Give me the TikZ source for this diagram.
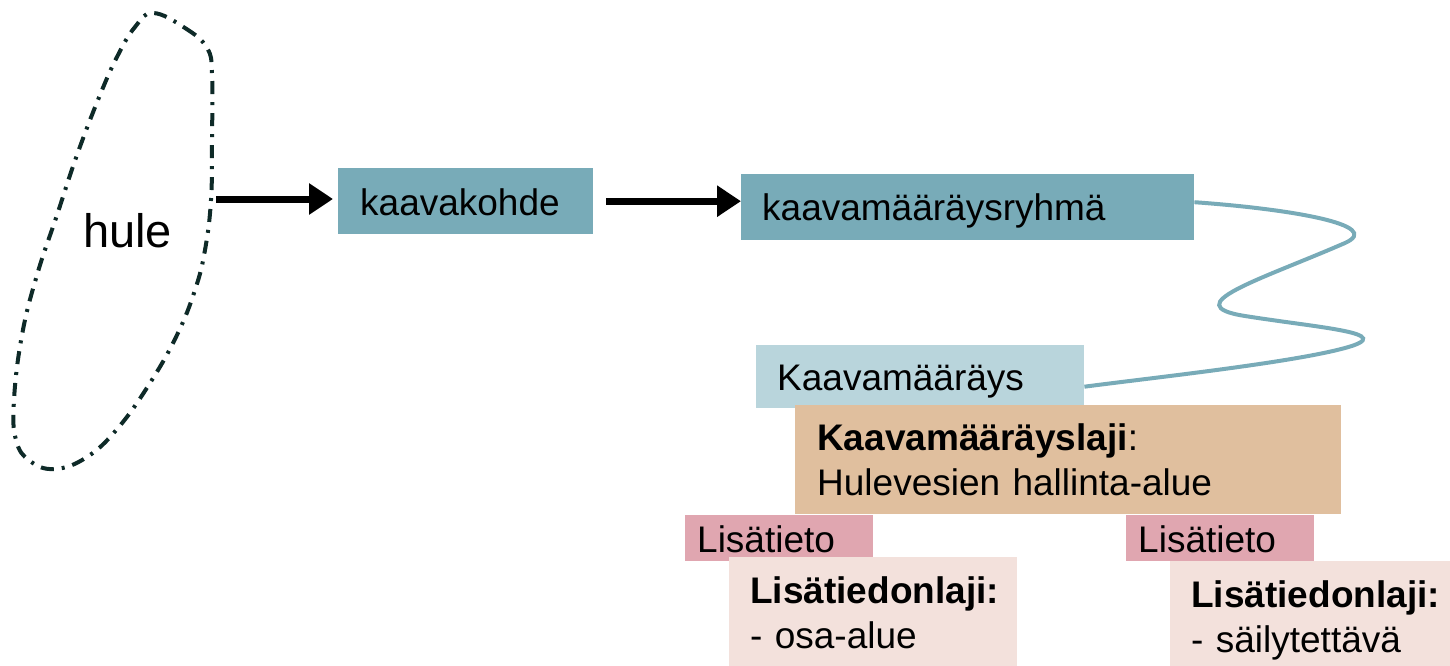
\documentclass[tikz,border=0pt]{standalone}
\usepackage{fontspec}
\setmainfont{Liberation Sans}
\usetikzlibrary{arrows.meta,calc}
\definecolor{tealA}{HTML}{78ABB8}
\definecolor{lblueA}{HTML}{B9D5DC}
\definecolor{tanA}{HTML}{E0BF9E}
\definecolor{pinkA}{HTML}{E0A6B0}
\definecolor{lpinkA}{HTML}{F3E1DC}
\definecolor{blobA}{HTML}{0E2A28}
\tikzset{
  tb/.style={rectangle, anchor=north west, inner ysep=0pt, align=left,
    font=\fontsize{37}{45}\selectfont},
  fatarrow/.style={line width=7pt, -{Triangle[length=24pt,width=30pt]}},
  blobline/.style={draw=blobA, line width=4pt, dash pattern=on 13pt off 8pt on 3pt off 8pt},
  wave/.style={draw=tealA, line width=4pt},
}
\begin{document}
\begin{tikzpicture}[x=1pt,y=-1pt]
\useasboundingbox (0,0) rectangle (1450,666);
% blob
\draw[blobline] plot[smooth cycle, tension=0.7] coordinates {
 (153,13) (185,28) (207,48) (212,75) (212,140) (211,200) (205,250) (195,290)
 (177,335) (150,383) (118,428) (87,457) (55,469) (30,461) (16,440) (14,400)
 (22,335) (37,275) (57,215) (77,155) (100,95) (118,55) (135,27)};
\node[anchor=base west, inner sep=0pt, font=\fontsize{47}{56}\selectfont] (hule) at (83,247) {hule};
\coordinate (hulearrow) at (216,199);

% boxes
\node[tb, fill=tealA, inner xsep=22pt, text width=211pt, text height=47pt, text depth=19pt] (kk) at (338,168) {kaavakohde};
\node[tb, fill=tealA, inner xsep=21pt, text width=411pt, text height=46pt, text depth=20pt] (kmr) at (741,174) {kaavamääräysryhmä};
\node[tb, fill=lblueA, inner xsep=21pt, text width=286pt, text height=45pt, text depth=18pt] (km) at (756,345) {Kaavamääräys};
\node[tb, fill=tanA, inner xsep=22pt, text width=502pt, text height=45pt, text depth=64pt] (laji) at (795,405) {\textbf{Kaavamääräyslaji}:\\Hulevesien hallinta-alue};
\node[tb, fill=pinkA, inner xsep=12pt, text width=164pt, text height=37pt, text depth=9pt] (lt1) at (685,515) {Lisätieto};
\node[tb, fill=lpinkA, inner xsep=21pt, text width=246pt, text height=46pt, text depth=63pt] (ld1) at (729,557) {\textbf{Lisätiedonlaji:}\\- osa-alue};
\node[tb, fill=pinkA, inner xsep=12pt, text width=164pt, text height=37pt, text depth=9pt] (lt2) at (1126,515) {Lisätieto};
\node[tb, fill=lpinkA, inner xsep=21pt, text width=238pt, text height=46pt, text depth=59pt] (ld2) at (1170,561) {\textbf{Lisätiedonlaji:}\\- säilytettävä};

% arrows
\draw[fatarrow, shorten >=5pt] (hulearrow) -- (hulearrow -| kk.west);
\draw[fatarrow, shorten <=13pt] (kk.east) -- (kk.east -| kmr.west);

% wave connector
\draw[wave] ($(kmr.east)+(0,-5)$)
  .. controls (1290,209) and (1385,225) .. (1345,243)
  .. controls (1260,280) and (1175,305) .. (1245,316)
  .. controls (1320,328) and (1400,333) .. (1345,348)
  .. controls (1290,363) and (1150,378) .. ($(km.east)+(0,10)$);
\end{tikzpicture}
\end{document}
